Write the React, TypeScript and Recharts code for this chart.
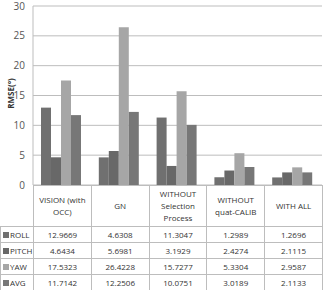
import { BarChart, Bar, XAxis, YAxis, CartesianGrid } from 'recharts'

const METHODS = ['VISION (with OCC)', 'GN', 'WITHOUT Selection Process', 'WITHOUT quat-CALIB', 'WITH ALL']
const HEADER_LINES = [['VISION (with', 'OCC)'], ['GN'], ['WITHOUT', 'Selection', 'Process'], ['WITHOUT', 'quat-CALIB'], ['WITH ALL']]
const ROLL = [12.9669, 4.6308, 11.3047, 1.2989, 1.2696]
const PITCH = [4.6434, 5.6981, 3.1929, 2.4274, 2.1115]
const YAW = [17.5323, 26.4228, 15.7277, 5.3304, 2.9587]
const AVG = [11.7142, 12.2506, 10.0751, 3.0189, 2.1133]
const Y_TICKS = [0, 5, 10, 15, 20, 25, 30]

const SERIES = [
  { key: 'ROLL', values: ROLL, color: '#707070' },
  { key: 'PITCH', values: PITCH, color: '#686868' },
  { key: 'YAW', values: YAW, color: '#a6a6a6' },
  { key: 'AVG', values: AVG, color: '#777777' },
]

const FONT = '"Open Sans", "Liberation Sans", sans-serif'
const LINE = '1px solid #bdbdbd'

const data = METHODS.map((m, i) => {
  const row: Record<string, string | number> = { method: m }
  for (const s of SERIES) row[s.key] = s.values[i]
  return row
})

const fmt = (v: number) => v.toFixed(4)

function YLabel(props: any) {
  const { viewBox } = props
  const cy = viewBox.y + viewBox.height / 2 - 2
  return (
    <text
      x={10}
      y={cy}
      transform={`rotate(-90 10 ${cy})`}
      textAnchor="middle"
      dominantBaseline="central"
      fontSize={8}
      fontWeight="bold"
      fill="#333"
      fontFamily={FONT}
    >
      RMSE(°)
    </text>
  )
}

export default function App() {
  const colW = (322 - 33) / METHODS.length
  return (
    <div style={{ position: 'absolute', left: 0, top: 0, width: 323, height: 290, background: '#fff', fontFamily: FONT }}>
      {/* extra bottom room so the 0 tick is not clipped; the table overlays it */}
      <BarChart
        width={323}
        height={198}
        data={data}
        margin={{ top: 6, right: 1, bottom: 13, left: 0 }}
        barCategoryGap={8}
        barGap={0}
      >
        <CartesianGrid vertical={false} stroke="#bdbdbd" />
        <XAxis dataKey="method" hide />
        <YAxis
          width={33}
          domain={[0, 30]}
          ticks={Y_TICKS}
          interval={0}
          tickLine={false}
          axisLine={{ stroke: '#bdbdbd' }}
          tick={{ fontSize: 10, fill: '#555', fontFamily: FONT }}
          label={<YLabel />}
        />
        {SERIES.map(s => (
          <Bar key={s.key} dataKey={s.key} fill={s.color} isAnimationActive={false} />
        ))}
      </BarChart>
      <table
        style={{
          position: 'absolute',
          left: 0,
          top: 185,
          borderCollapse: 'collapse',
          tableLayout: 'fixed',
          width: 323,
          fontSize: 8,
          color: '#333',
          fontFamily: FONT,
        }}
      >
        <colgroup>
          <col style={{ width: 33 }} />
          {METHODS.map(m => <col key={m} style={{ width: colW }} />)}
        </colgroup>
        <tbody>
          <tr style={{ height: 41 }}>
            <td style={{ borderRight: LINE }} />
            {HEADER_LINES.map((lines, i) => (
              <td key={i} style={{ border: LINE, textAlign: 'center', padding: 0, lineHeight: '12px' }}>
                {lines.map((l, j) => <div key={j}>{l}</div>)}
              </td>
            ))}
          </tr>
          {SERIES.map(s => (
            <tr key={s.key} style={{ height: 16 }}>
              <td style={{ border: LINE, padding: '0 0 0 2px', whiteSpace: 'nowrap' }}>
                <span style={{ display: 'inline-block', width: 6, height: 6, background: s.color, marginRight: 1 }} />
                {s.key}
              </td>
              {s.values.map((v, i) => (
                <td key={i} style={{ border: LINE, textAlign: 'center', padding: 0 }}>{fmt(v)}</td>
              ))}
            </tr>
          ))}
        </tbody>
      </table>
    </div>
  )
}
